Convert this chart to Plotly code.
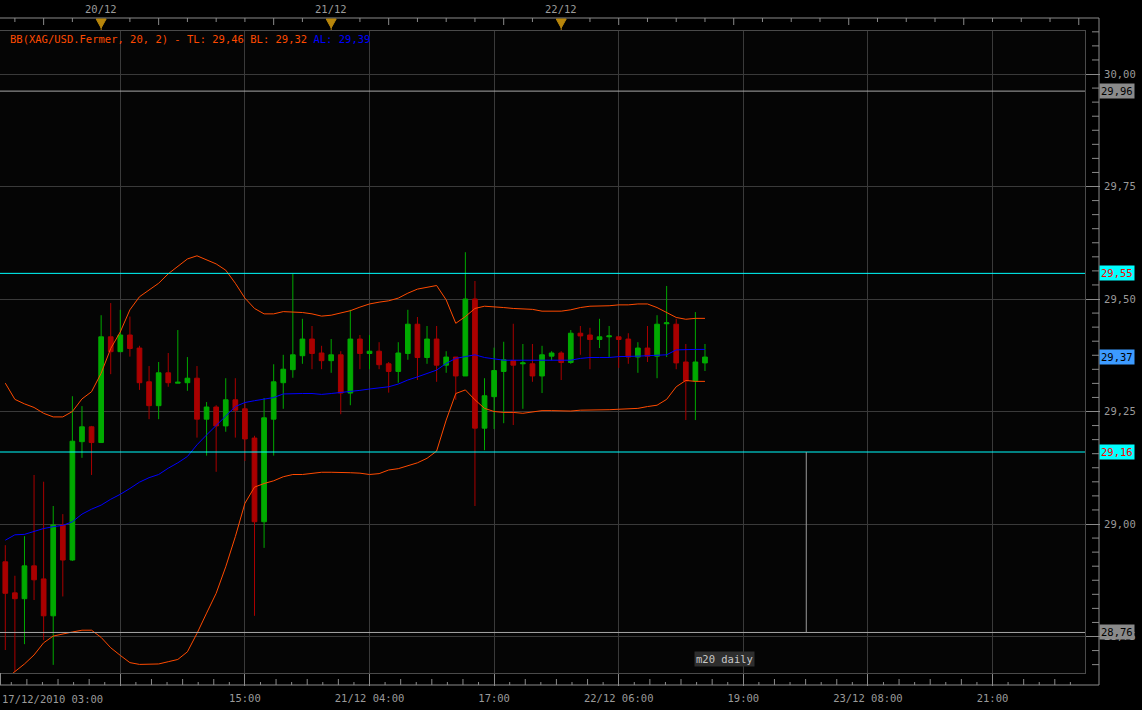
import plotly.graph_objects as go

# ---------------- data (hourly candles, index 0..73) ----------------
idx = list(range(74))
opens = [28.916, 28.847, 28.834, 28.907, 28.878, 28.796, 28.998, 28.920, 29.183, 29.216,
         29.181, 29.416, 29.383, 29.420, 29.391, 29.316, 29.263, 29.336, 29.313, 29.314,
         29.324, 29.233, 29.260, 29.218, 29.276, 29.256, 29.191, 29.005, 29.233, 29.314,
         29.343, 29.374, 29.411, 29.380, 29.363, 29.376, 29.291, 29.411, 29.379, 29.384,
         29.356, 29.339, 29.379, 29.444, 29.370, 29.411, 29.353, 29.371, 29.329, 29.500,
         29.213, 29.283, 29.339, 29.363, 29.356, 29.356, 29.329, 29.373, 29.380, 29.359,
         29.424, 29.420, 29.410, 29.416, 29.416, 29.411, 29.371, 29.391, 29.373, 29.445,
         29.444, 29.360, 29.318, 29.358]
highs = [28.953, 28.885, 28.973, 29.109, 29.094, 29.040, 29.022, 29.284, 29.262, 29.218,
         29.464, 29.491, 29.476, 29.461, 29.396, 29.351, 29.360, 29.380, 29.431, 29.371,
         29.351, 29.271, 29.264, 29.324, 29.324, 29.268, 29.196, 29.280, 29.355, 29.376,
         29.556, 29.456, 29.440, 29.396, 29.411, 29.384, 29.476, 29.420, 29.420, 29.404,
         29.360, 29.404, 29.476, 29.460, 29.440, 29.440, 29.384, 29.371, 29.604, 29.540,
         29.324, 29.392, 29.405, 29.445, 29.400, 29.400, 29.396, 29.384, 29.384, 29.431,
         29.440, 29.436, 29.456, 29.440, 29.416, 29.424, 29.404, 29.440, 29.464, 29.529,
         29.456, 29.400, 29.471, 29.400]
lows = [28.720, 28.672, 28.733, 28.831, 28.742, 28.687, 28.839, 28.918, 29.147, 29.109,
        29.180, 29.333, 29.382, 29.372, 29.298, 29.233, 29.233, 29.305, 29.313, 29.296,
        29.192, 29.152, 29.116, 29.205, 29.192, 29.140, 28.796, 28.947, 29.152, 29.256,
        29.325, 29.356, 29.344, 29.344, 29.336, 29.244, 29.264, 29.344, 29.344, 29.344,
        29.292, 29.314, 29.365, 29.320, 29.356, 29.316, 29.336, 29.276, 29.329, 29.040,
        29.164, 29.211, 29.224, 29.220, 29.256, 29.316, 29.291, 29.364, 29.320, 29.356,
        29.376, 29.344, 29.391, 29.371, 29.347, 29.356, 29.336, 29.360, 29.324, 29.371,
        29.344, 29.231, 29.231, 29.340]
closes = [28.846, 28.834, 28.907, 28.876, 28.796, 28.998, 28.920, 29.184, 29.216, 29.181,
          29.416, 29.383, 29.420, 29.390, 29.314, 29.263, 29.336, 29.314, 29.315, 29.324,
          29.233, 29.260, 29.218, 29.276, 29.253, 29.189, 29.005, 29.236, 29.316, 29.344,
          29.376, 29.411, 29.379, 29.363, 29.376, 29.291, 29.411, 29.379, 29.384, 29.354,
          29.339, 29.380, 29.444, 29.370, 29.411, 29.353, 29.371, 29.329, 29.500, 29.213,
          29.285, 29.341, 29.365, 29.353, 29.358, 29.329, 29.376, 29.380, 29.359, 29.424,
          29.418, 29.410, 29.416, 29.418, 29.410, 29.371, 29.391, 29.373, 29.444, 29.447,
          29.358, 29.318, 29.360, 29.371]

bb_upper = [29.313, 29.277, 29.267, 29.259, 29.246, 29.238, 29.238, 29.250, 29.278, 29.294,
            29.335, 29.390, 29.427, 29.476, 29.505, 29.520, 29.535, 29.556, 29.573, 29.589,
            29.596, 29.587, 29.578, 29.564, 29.535, 29.502, 29.479, 29.467, 29.467, 29.472,
            29.471, 29.470, 29.467, 29.462, 29.464, 29.469, 29.474, 29.482, 29.489, 29.493,
            29.496, 29.502, 29.513, 29.522, 29.526, 29.530, 29.498, 29.446, 29.461, 29.479,
            29.484, 29.483, 29.481, 29.479, 29.478, 29.477, 29.473, 29.473, 29.473, 29.476,
            29.481, 29.484, 29.484, 29.485, 29.487, 29.487, 29.489, 29.489, 29.481, 29.470,
            29.459, 29.455, 29.457, 29.457]
bb_lower = [28.655, 28.672, 28.689, 28.709, 28.736, 28.751, 28.756, 28.760, 28.764, 28.764,
            28.748, 28.725, 28.708, 28.692, 28.688, 28.688, 28.689, 28.694, 28.699, 28.716,
            28.757, 28.802, 28.846, 28.905, 28.972, 29.046, 29.082, 29.090, 29.096, 29.105,
            29.110, 29.110, 29.113, 29.115, 29.115, 29.115, 29.114, 29.113, 29.110, 29.112,
            29.120, 29.123, 29.129, 29.136, 29.146, 29.162, 29.231, 29.290, 29.298, 29.276,
            29.257, 29.250, 29.248, 29.248, 29.246, 29.249, 29.252, 29.252, 29.252, 29.251,
            29.253, 29.253, 29.254, 29.254, 29.255, 29.256, 29.257, 29.261, 29.264, 29.277,
            29.305, 29.319, 29.317, 29.317]
bb_mid = [28.964, 28.976, 28.977, 28.983, 28.990, 28.994, 28.997, 29.005, 29.022, 29.033,
          29.042, 29.055, 29.066, 29.079, 29.093, 29.103, 29.110, 29.124, 29.136, 29.150,
          29.176, 29.198, 29.218, 29.240, 29.261, 29.270, 29.274, 29.278, 29.281, 29.289,
          29.290, 29.290, 29.290, 29.288, 29.290, 29.292, 29.294, 29.297, 29.300, 29.302,
          29.305, 29.311, 29.320, 29.327, 29.335, 29.342, 29.357, 29.368, 29.372, 29.376,
          29.370, 29.367, 29.364, 29.364, 29.364, 29.364, 29.364, 29.364, 29.363, 29.364,
          29.368, 29.370, 29.370, 29.370, 29.372, 29.372, 29.373, 29.374, 29.375, 29.376,
          29.387, 29.388, 29.388, 29.388]

# x-axis labels (gridlines every 13 bars)
grid_idx = [12, 25, 38, 51, 64, 77, 90, 103]
grid_text = ["", "15:00", "21/12 04:00", "17:00", "22/12 06:00", "19:00", "23/12 08:00", "21:00"]
first_label = "17/12/2010 03:00"
day_idx = [10, 34, 58]
day_text = ["20/12", "21/12", "22/12"]

# horizontal level lines: (value, label, line colour, box colour, text colour)
levels = [29.962, 29.557, 29.16, 28.759]
level_text = ["29,96", "29,55", "29,16", "28,76"]
level_line = ["#a8a8a8", "#00ffff", "#00ffff", "#a8a8a8"]
level_box = ["#8a8a8a", "#00ffff", "#00ffff", "#8a8a8a"]
level_font = ["#000000", "#ff0000", "#ff0000", "#000000"]
last_price = 29.371
last_text = "29,37"
vline_idx = 83.57
vline_range = [28.759, 29.16]
legend_parts = ["BB(XAG/USD.Fermer, 20, 2) - TL: 29,46", "BL: 29,32", "AL: 29,39"]
tag_text = "m20 daily"
tag_idx = 75.0

# ---------------- layout geometry ----------------
W, H = 1142, 710
ML, MR, MT, MB = 0, 57, 31, 37
PW, PH = W - ML - MR, H - MT - MB          # 1085 x 642
XR = [-0.553, 112.65]
YR = [28.6689, 30.0956]
FONT = "DejaVu Sans Mono"
GRAY_TXT = "#9a9a9a"
RULER = "#8a8a8a"
ORANGE = "#ff4a00"


def pyp(ypx):  # pixel row -> paper y
    return (MT + PH - ypx) / PH


def pxp(xpx):  # pixel column -> paper x
    return (xpx - ML) / PW


fig = go.Figure()
fig.add_trace(go.Candlestick(
    x=idx, open=opens, high=highs, low=lows, close=closes,
    increasing=dict(line=dict(color="#00aa00", width=1), fillcolor="#00aa00"),
    decreasing=dict(line=dict(color="#aa0000", width=1), fillcolor="#aa0000"),
    whiskerwidth=0, hoverinfo="skip", showlegend=False))
fig.add_trace(go.Scatter(x=idx, y=bb_upper, mode="lines", line=dict(color=ORANGE, width=1),
                         hoverinfo="skip", showlegend=False))
fig.add_trace(go.Scatter(x=idx, y=bb_lower, mode="lines", line=dict(color=ORANGE, width=1),
                         hoverinfo="skip", showlegend=False))
fig.add_trace(go.Scatter(x=idx, y=bb_mid, mode="lines", line=dict(color="#0000ff", width=1),
                         hoverinfo="skip", showlegend=False))

shapes = []
annots = []

# level lines + labels
for v, t, lc, bc, fc in zip(levels, level_text, level_line, level_box, level_font):
    shapes.append(dict(type="line", xref="paper", yref="y", x0=0, x1=1, y0=v, y1=v,
                       line=dict(color=lc, width=1), layer="above"))
    annots.append(dict(xref="paper", yref="y", x=pxp(1099), y=v, xanchor="left", yanchor="middle",
                       text=t, showarrow=False, bgcolor=bc, borderpad=1,
                       font=dict(family=FONT, size=10.5, color=fc)))
annots.append(dict(xref="paper", yref="y", x=pxp(1099), y=last_price, xanchor="left", yanchor="middle",
                   text=last_text, showarrow=False, bgcolor="#3d9bff", borderpad=1,
                   font=dict(family=FONT, size=10.5, color="#000000")))

# vertical drawing line
shapes.append(dict(type="line", xref="x", yref="y", x0=vline_idx, x1=vline_idx,
                   y0=vline_range[0], y1=vline_range[1], line=dict(color="#9a9a9a", width=1)))

# ruler / axis lines
xr_axis = pxp(1099)
shapes.append(dict(type="line", xref="paper", yref="paper", x0=xr_axis, x1=xr_axis,
                   y0=pyp(685), y1=pyp(18), line=dict(color=RULER, width=1)))
shapes.append(dict(type="line", xref="paper", yref="paper", x0=0, x1=xr_axis,
                   y0=pyp(18), y1=pyp(18), line=dict(color=RULER, width=1)))
shapes.append(dict(type="line", xref="paper", yref="paper", x0=0, x1=xr_axis,
                   y0=pyp(685), y1=pyp(685), line=dict(color=RULER, width=1)))
shapes.append(dict(type="line", xref="paper", yref="paper", x0=pxp(0.5), x1=pxp(0.5),
                   y0=pyp(685), y1=pyp(673), line=dict(color=RULER, width=1)))

# right minor ticks (8 per 0.25)
step = 0.03125
k = int(YR[0] / step) + 1
while k * step < YR[1]:
    v = k * step
    if k % 8 != 0:
        shapes.append(dict(type="line", xref="paper", yref="y", x0=pxp(1092), x1=xr_axis,
                           y0=v, y1=v, line=dict(color=RULER, width=1)))
    k += 1

# bottom minor ticks (8 per 13 bars)
for kk in range(-7, 63):
    if kk % 8 == 0:
        continue
    xi = 12 + kk * 13 / 8
    if xi < XR[0] or xi > XR[1]:
        continue
    top = 679 if kk % 2 == 0 else 682
    shapes.append(dict(type="line", xref="x", yref="paper", x0=xi, x1=xi,
                       y0=pyp(685), y1=pyp(top), line=dict(color=RULER, width=1)))

# top ruler ticks every 3 bars
for kk in range(-3, 35):
    xi = 10 + 3 * kk
    if xi < XR[0] or xi > XR[1]:
        continue
    if xi in day_idx:
        continue
    bot = 25 if (xi - 10) % 12 == 6 else 22
    shapes.append(dict(type="line", xref="x", yref="paper", x0=xi, x1=xi,
                       y0=pyp(18), y1=pyp(bot), line=dict(color=RULER, width=1)))

# day markers
for xi, t in zip(day_idx, day_text):
    shapes.append(dict(type="path", xref="x", yref="paper",
                       path=f"M {xi-0.52},{pyp(19)} L {xi+0.52},{pyp(19)} L {xi},{pyp(28)} Z",
                       fillcolor="#b8860b", line=dict(color="#b8860b", width=1)))
    shapes.append(dict(type="line", xref="x", yref="paper", x0=xi, x1=xi, y0=pyp(27), y1=pyp(30),
                       line=dict(color="#b8860b", width=1)))
    annots.append(dict(xref="x", yref="paper", x=xi, y=pyp(9), xanchor="center", yanchor="middle",
                       text=t, showarrow=False, font=dict(family=FONT, size=10.5, color=GRAY_TXT)))

# first bottom label
annots.append(dict(xref="paper", yref="paper", x=0, y=pyp(698.5), xanchor="left", yanchor="middle",
                   text=first_label, showarrow=False, font=dict(family=FONT, size=10.5, color=GRAY_TXT)))

# legend text
leg = (f'<span style="color:{ORANGE}">{legend_parts[0]}</span> '
       f'<span style="color:{ORANGE}">{legend_parts[1]}</span> '
       f'<span style="color:#0000ff">{legend_parts[2]}</span>')
annots.append(dict(xref="paper", yref="paper", x=pxp(8), y=pyp(39), xanchor="left", yanchor="middle",
                   text=leg, showarrow=False, font=dict(family=FONT, size=10.5, color=ORANGE)))

# tag
annots.append(dict(xref="x", yref="paper", x=tag_idx, y=pyp(658.5), xanchor="center", yanchor="middle",
                   text=tag_text, showarrow=False, bgcolor="#2e2e2e", borderpad=1,
                   font=dict(family=FONT, size=10.5, color="#c8c8c8")))

fig.update_layout(
    width=W, height=H, margin=dict(l=ML, r=MR, t=MT, b=MB, pad=0, autoexpand=False),
    paper_bgcolor="#000000", plot_bgcolor="#050505",
    separators=",.", showlegend=False, hovermode=False,
    shapes=shapes, annotations=annots,
    xaxis=dict(range=XR, tickmode="array", tickvals=grid_idx, ticktext=grid_text,
               showgrid=True, gridcolor="#3a3a3a", gridwidth=1, zeroline=False,
               ticks="outside", ticklen=12, tickcolor=RULER, tickwidth=1,
               tickfont=dict(family=FONT, size=10.5, color=GRAY_TXT), ticklabelstandoff=3,
               showline=True, linecolor="#4a4a4a", linewidth=1, mirror=True, automargin=False,
               rangeslider=dict(visible=False), fixedrange=True),
    yaxis=dict(range=YR, side="right", tick0=28.75, dtick=0.25, tickformat=".2f",
               showgrid=True, gridcolor="#3a3a3a", gridwidth=1, zeroline=False,
               ticks="outside", ticklen=14, tickcolor=RULER, tickwidth=1,
               tickfont=dict(family=FONT, size=10.5, color=GRAY_TXT), ticklabelstandoff=2,
               showline=True, linecolor="#4a4a4a", linewidth=1, mirror=True, automargin=False,
               fixedrange=True),
)

fig.write_html("out.html", config={"displayModeBar": False},
               post_script="document.body.style.margin='0';document.body.style.background='#000';")
